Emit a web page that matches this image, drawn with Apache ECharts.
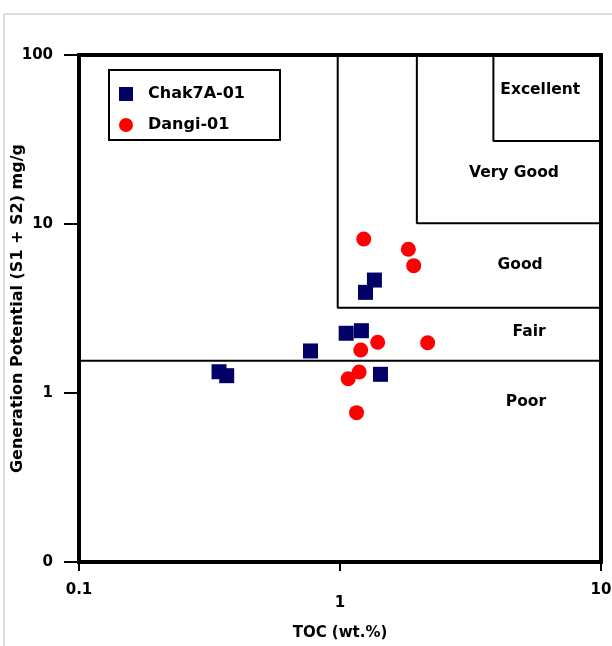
<!DOCTYPE html>
<html>
<head>
<meta charset="utf-8">
<script src="https://cdn.jsdelivr.net/npm/echarts@6/dist/echarts.min.js"></script>
<style>html,body{margin:0;padding:0;background:#fff}#c{width:612px;height:646px}</style>
</head>
<body>
<div id="c"></div>
<script>
// Data (TOC wt.%, S1+S2 mg/g)
const chakTOC = [0.344, 0.368, 0.771, 1.056, 1.208, 1.252, 1.355, 1.429];
const chakGP  = [1.336, 1.266, 1.773, 2.257, 2.337, 3.94, 4.66, 1.29];
const dangiTOC = [1.233, 1.828, 1.916, 1.395, 2.167, 1.201, 1.184, 1.075, 1.157];
const dangiGP  = [8.15, 7.09, 5.67, 1.995, 1.984, 1.796, 1.331, 1.215, 0.765];

// Region boundaries
const poorFairLine = [[0.1, 1.55], [10, 1.55]];
const goodBox = [[0.98, 100], [0.98, 3.2], [10, 3.2]];
const veryGoodBox = [[1.97, 100], [1.97, 10.1], [10, 10.1]];
const excellentBox = [[3.87, 100], [3.87, 31], [10, 31]];

// Region labels
const regionNames = ['Excellent', 'Very Good', 'Good', 'Fair', 'Poor'];
const regionX = [5.85, 4.64, 4.9, 5.3, 5.16];
const regionY = [62, 20, 5.7, 2.3, 0.885];

const xTicks = [0.1, 1, 10];
const yTicks = [0.1, 1, 10, 100];

const FONT = 'DejaVu Sans';
const chart = echarts.init(document.getElementById('c'), null, {renderer: 'canvas'});

function zip(a, b) { return a.map((v, i) => [v, b[i]]); }
function boundary(data) {
  return {
    type: 'line', data: data, symbol: 'none', silent: true, z: 1,
    lineStyle: {color: '#000', width: 2, opacity: 1}, animation: false
  };
}

chart.setOption({
  animation: false,
  backgroundColor: '#fff',
  grid: {left: 79, right: 11, top: 55, bottom: 84, show: true, borderColor: '#000', borderWidth: 4,
         containLabel: false, outerBoundsMode: 'none'},
  graphic: [{
    type: 'rect', shape: {x: 4, y: 14, width: 700, height: 700},
    style: {fill: 'none', stroke: '#bdbdbd', lineWidth: 1}, silent: true, z: -10
  }],
  legend: {
    data: ['Chak7A-01', 'Dangi-01'],
    orient: 'vertical', left: 109, top: 70,
    backgroundColor: '#fff', borderColor: '#000', borderWidth: 2,
    padding: [16, 35, 7, 10], itemGap: 15, itemWidth: 14, itemHeight: 14,
    textStyle: {fontFamily: FONT, fontWeight: 'bold', fontSize: 16, color: '#000', padding: [0, 0, 0, 10]}
  },
  xAxis: {
    type: 'log', logBase: 10, min: 0.1, max: 10,
    name: 'TOC (wt.%)', nameLocation: 'middle', nameGap: 64,
    nameTextStyle: {fontFamily: FONT, fontWeight: 'bold', fontSize: 15, color: '#000'},
    axisLine: {show: false},
    axisTick: {show: true, inside: false, length: 9, lineStyle: {color: '#000', width: 2}},
    splitLine: {show: false},
    axisLabel: {
      margin: 21, fontFamily: FONT, fontWeight: 'bold', fontSize: 15, color: '#000',
      formatter: function (v) {
        const r = Math.round(v * 10) / 10;
        if (r === 1) return '{low|1}';
        return String(r);
      },
      rich: {low: {fontFamily: FONT, fontWeight: 'bold', fontSize: 15, color: '#000', padding: [13, 0, 0, 0]}}
    }
  },
  yAxis: {
    type: 'log', logBase: 10, min: 0.1, max: 100,
    name: 'Generation Potential (S1 + S2) mg/g', nameLocation: 'middle', nameGap: 53,
    nameMoveOverlap: false,
    nameTextStyle: {fontFamily: FONT, fontWeight: 'bold', fontSize: 16, color: '#000'},
    axisLine: {show: false},
    axisTick: {show: true, inside: false, length: 15, lineStyle: {color: '#000', width: 2}},
    splitLine: {show: false},
    axisLabel: {
      margin: 26, fontFamily: FONT, fontWeight: 'bold', fontSize: 15, color: '#000',
      formatter: function (v) { return String(Math.round(v)); }
    }
  },
  series: [
    boundary(poorFairLine),
    boundary(goodBox),
    boundary(veryGoodBox),
    boundary(excellentBox),
    {
      type: 'scatter', silent: true, z: 2,
      data: zip(regionX, regionY).map((p, i) => ({value: p, name: regionNames[i]})),
      symbolSize: 0, itemStyle: {opacity: 1},
      label: {show: true, position: 'inside', formatter: '{b}', fontFamily: FONT, fontWeight: 'bold', fontSize: 15.5, color: '#000', opacity: 1}
    },
    {
      name: 'Chak7A-01', type: 'scatter', symbol: 'rect', symbolSize: 15, z: 5,
      itemStyle: {color: '#000066', opacity: 1}, data: zip(chakTOC, chakGP)
    },
    {
      name: 'Dangi-01', type: 'scatter', symbol: 'circle', symbolSize: 15, z: 5,
      itemStyle: {color: '#ff0000', opacity: 1}, data: zip(dangiTOC, dangiGP)
    }
  ]
});
</script>
</body>
</html>
